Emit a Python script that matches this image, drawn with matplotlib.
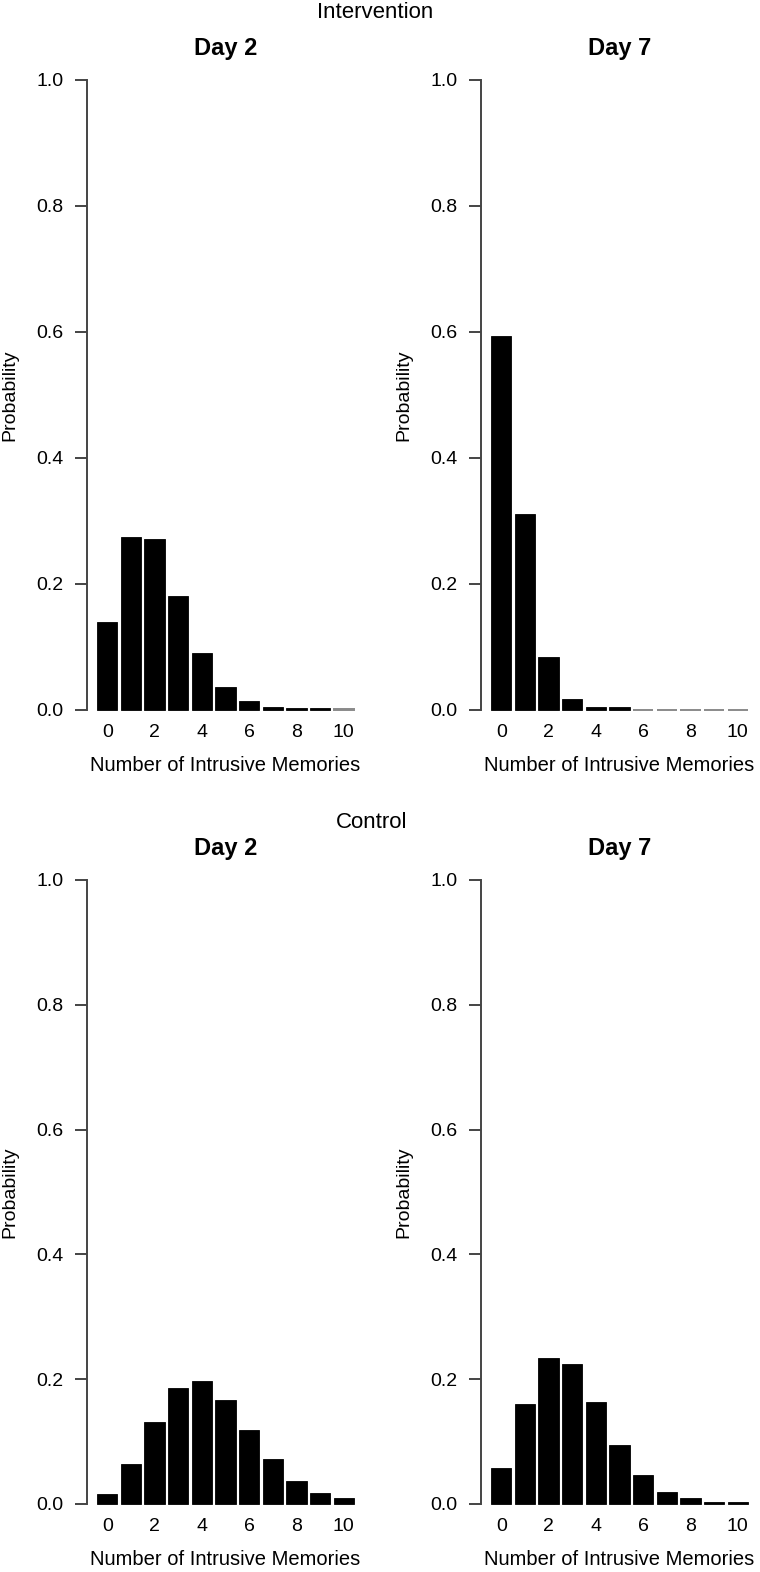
import matplotlib
matplotlib.use("Agg")
import matplotlib.pyplot as plt
import numpy as np

plt.rcParams['font.family'] = ['Liberation Sans', 'DejaVu Sans']

# ---- data ----
counts = list(range(11))
tick_positions = [0, 2, 4, 6, 8, 10]
tick_labels = ["0", "2", "4", "6", "8", "10"]
y_ticks = [0.0, 0.2, 0.4, 0.6, 0.8, 1.0]
y_tick_labels = ["0.0", "0.2", "0.4", "0.6", "0.8", "1.0"]

intervention_day2 = [0.140, 0.274, 0.272, 0.181, 0.090, 0.037, 0.014, 0.005, 0.003, 0.003, 0.001]
intervention_day7 = [0.594, 0.311, 0.084, 0.017, 0.004, 0.004, 0.0005, 0.0005, 0.0005, 0.0005, 0.0005]
control_day2 = [0.016, 0.064, 0.132, 0.186, 0.197, 0.167, 0.119, 0.072, 0.037, 0.018, 0.009]
control_day7 = [0.057, 0.161, 0.234, 0.225, 0.164, 0.095, 0.047, 0.020, 0.009, 0.003, 0.003]

group_titles = ["Intervention", "Control"]
day_titles = ["Day 2", "Day 7"]
xlabel = "Number of Intrusive Memories"
ylabel = "Probability"

W, H = 760, 1572
fig = plt.figure(figsize=(W / 100, H / 100), dpi=100)


def add_ax(x0, x1, ytop, ybot):
    return fig.add_axes([x0 / W, 1 - ybot / H, (x1 - x0) / W, (ybot - ytop) / H])


axis_color = "#444444"


def draw_panel(ax, values, title):
    cols = ["#8a8a8a" if v < 0.002 else "black" for v in values]
    lws = [1.4 if v < 0.002 else 0.6 for v in values]
    ax.bar(counts, values, width=0.86, color="black", edgecolor=cols, linewidth=lws)
    ax.set_xlim(-0.86, 10.86)
    ax.set_ylim(0, 1.0)
    for s in ["top", "right", "bottom"]:
        ax.spines[s].set_visible(False)
    ax.spines["left"].set_bounds(0, 1)
    ax.spines["left"].set_color(axis_color)
    ax.spines["left"].set_linewidth(1.4)
    ax.set_yticks(y_ticks)
    ax.set_yticklabels(y_tick_labels, fontsize=14)
    ax.tick_params(axis="y", length=9, width=1.4, color=axis_color, pad=8)
    ax.set_xticks(tick_positions)
    ax.set_xticklabels(tick_labels, fontsize=14)
    ax.tick_params(axis="x", length=0, pad=10)
    ax.set_xlabel(xlabel, fontsize=14.5, labelpad=11)
    ax.set_ylabel(ylabel, fontsize=14, labelpad=13)
    ax.set_title(title, fontsize=17, fontweight="bold", pad=18)
    ax.patch.set_visible(False)
    for b in ax.patches:
        b.set_clip_on(False)


ax1 = add_ax(87, 364, 80, 710)
ax2 = add_ax(481, 758, 80, 710)
ax3 = add_ax(87, 364, 880, 1504)
ax4 = add_ax(481, 758, 880, 1504)

draw_panel(ax1, intervention_day2, day_titles[0])
draw_panel(ax2, intervention_day7, day_titles[1])
draw_panel(ax3, control_day2, day_titles[0])
draw_panel(ax4, control_day7, day_titles[1])

fig.text(375 / W, 1 - 13 / H, group_titles[0], ha="center", va="center", fontsize=16)
fig.text(372 / W, 1 - 823 / H, group_titles[1], ha="center", va="center", fontsize=16)

fig.savefig("out.png", dpi=100, facecolor="white")
